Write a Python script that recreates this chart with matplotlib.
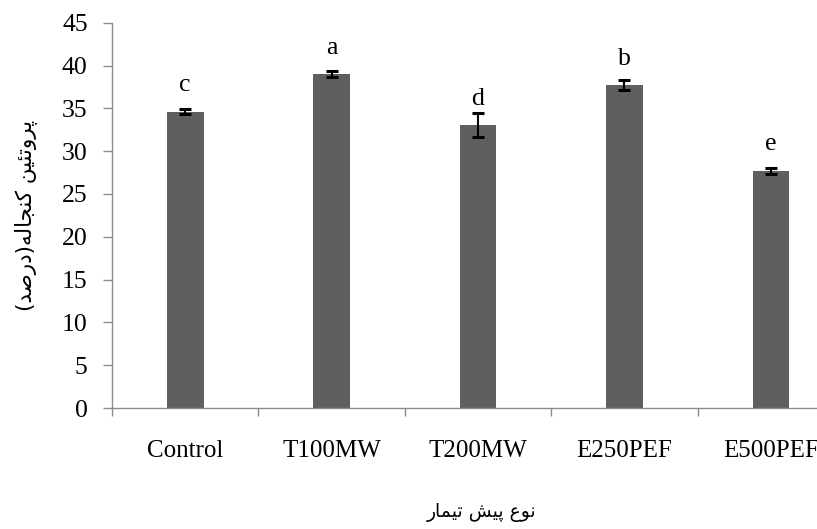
import matplotlib
matplotlib.use("Agg")
import matplotlib.pyplot as plt
import numpy as np

# Data
treatments = ["Control", "T100MW", "T200MW", "E250PEF", "E500PEF"]
protein = [34.6, 39.0, 33.0, 37.7, 27.7]
protein_err = [0.3, 0.35, 1.4, 0.6, 0.35]
groups = ["c", "a", "d", "b", "e"]
y_ticks = [0, 5, 10, 15, 20, 25, 30, 35, 40, 45]

x_title = "نوع پیش تیمار"
y_title = "پروتئین کنجاله(درصد)"

# Minimal Persian shaping: contextual forms (isolated, final, initial, medial)
FORMS = {
    "ا": ("\uFE8D", "\uFE8E", None, None),
    "د": ("\uFEA9", "\uFEAA", None, None),
    "ر": ("\uFEAD", "\uFEAE", None, None),
    "و": ("\uFEED", "\uFEEE", None, None),
    "پ": ("\uFB56", "\uFB57", "\uFB58", "\uFB59"),
    "ت": ("\uFE95", "\uFE96", "\uFE97", "\uFE98"),
    "ج": ("\uFE9D", "\uFE9E", "\uFE9F", "\uFEA0"),
    "ش": ("\uFEB5", "\uFEB6", "\uFEB7", "\uFEB8"),
    "ص": ("\uFEB9", "\uFEBA", "\uFEBB", "\uFEBC"),
    "ع": ("\uFEC9", "\uFECA", "\uFECB", "\uFECC"),
    "ک": ("\uFB8E", "\uFB8F", "\uFB90", "\uFB91"),
    "ل": ("\uFEDD", "\uFEDE", "\uFEDF", "\uFEE0"),
    "م": ("\uFEE1", "\uFEE2", "\uFEE3", "\uFEE4"),
    "ن": ("\uFEE5", "\uFEE6", "\uFEE7", "\uFEE8"),
    "ه": ("\uFEE9", "\uFEEA", "\uFEEB", "\uFEEC"),
    "ئ": ("\uFE89", "\uFE8A", "\uFE8B", "\uFE8C"),
    "ی": ("\uFBFC", "\uFBFD", "\uFBFE", "\uFBFF"),
}


def shape_rtl(s):
    out = []
    for i, ch in enumerate(s):
        f = FORMS.get(ch)
        if f is None:
            out.append(ch)
            continue
        prev = s[i - 1] if i > 0 else ""
        nxt = s[i + 1] if i + 1 < len(s) else ""
        jp = prev in FORMS and FORMS[prev][2] is not None
        jn = nxt in FORMS and f[2] is not None
        if jp and jn:
            out.append(f[3])
        elif jp:
            out.append(f[1])
        elif jn:
            out.append(f[2])
        else:
            out.append(f[0])
    vis = "".join(reversed(out))
    return vis.translate(str.maketrans("()", ")("))


serif = "Liberation Serif"
axis_grey = "#8c8c8c"
bar_grey = "#5f5f5f"

fig = plt.figure(figsize=(8.17, 5.29), dpi=100)
ax = fig.add_axes([0.1371, 0.2287, 0.896, 0.7284])

x = np.arange(len(treatments))
ax.bar(x, protein, width=0.25, color=bar_grey, zorder=2)
ax.errorbar(x, protein, yerr=protein_err, fmt="none", ecolor="black",
            elinewidth=1.5, capsize=4.5, capthick=2.2, zorder=3)

for xi, v, g in zip(x, protein, groups):
    ax.text(xi, v + 2.4, g, ha="center", va="baseline",
            fontfamily=serif, fontsize=18.5, color="black")

ax.set_xlim(-0.5, len(treatments) - 0.5)
ax.set_ylim(0, 45)
ax.set_yticks(y_ticks)
ax.set_yticklabels([str(t) for t in y_ticks], fontfamily=serif, fontsize=18.5)

ax.set_xticks(x)
ax.set_xticklabels(treatments, fontfamily=serif, fontsize=18)
ax.set_xticks(np.arange(-0.5, len(treatments)), minor=True)
ax.tick_params(axis="x", which="major", length=0, pad=23)
ax.tick_params(axis="x", which="minor", length=6, width=1, color=axis_grey,
               direction="out")
ax.tick_params(axis="y", length=6.5, width=1, color=axis_grey,
               direction="out", pad=11)

for side in ("top", "right"):
    ax.spines[side].set_visible(False)
for side in ("left", "bottom"):
    ax.spines[side].set_color(axis_grey)
    ax.spines[side].set_linewidth(1)

ax.set_xlabel(shape_rtl(x_title), fontfamily="DejaVu Sans", fontsize=13.5,
              va="center")
ax.xaxis.set_label_coords(0.505, -0.27)
ax.set_ylabel(shape_rtl(y_title), fontfamily="DejaVu Sans", fontsize=15.5,
              va="center", rotation=90)
ax.yaxis.set_label_coords(-0.118, 0.5)

fig.savefig("out.png", dpi=100)
